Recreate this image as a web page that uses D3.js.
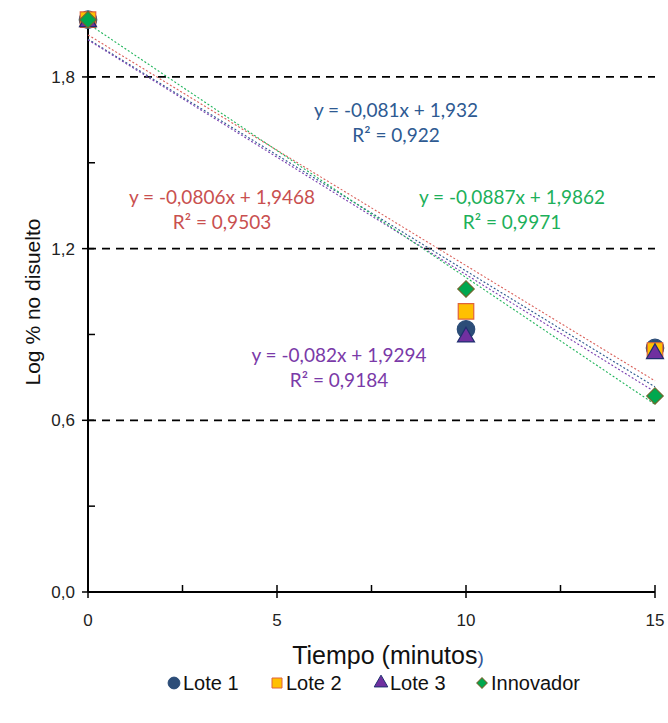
<!DOCTYPE html>
<html>
<head>
<meta charset="utf-8">
<script src="https://cdn.jsdelivr.net/npm/d3@7"></script>
<style>
  body { margin: 0; background: #fff; }
  svg { display: block; }
</style>
</head>
<body>
<div class="chart"></div>
<script>
var width = 668;
var height = 723;

// data
var tiempos = [0, 10, 15];
var series = ['Lote 1', 'Lote 2', 'Lote 3', 'Innovador'];
var lote1 = [2.0, 0.918, 0.853];
var lote2 = [2.0, 0.981, 0.844];
var lote3 = [2.0, 0.898, 0.840];
var innovador = [2.0, 1.059, 0.685];
var pendientes = [-0.081, -0.0806, -0.082, -0.0887];
var intercepts = [1.932, 1.9468, 1.9294, 1.9862];
var ecuaciones = ['y = -0,081x + 1,932', 'y = -0,0806x + 1,9468', 'y = -0,082x + 1,9294', 'y = -0,0887x + 1,9862'];
var r2 = ['R² = 0,922', 'R² = 0,9503', 'R² = 0,9184', 'R² = 0,9971'];
var yTicks = [0, 0.6, 1.2, 1.8];
var xTicks = [0, 5, 10, 15];

var valores = [lote1, lote2, lote3, innovador];
var fills = ['#2C4D78', '#FFC000', '#7030A0', '#00A84F'];
var strokes = ['#2C4D78', '#E0633A', '#1F2F70', '#6B6A2E'];
var lineColors = ['#2F5A8F', '#D9605A', '#7A3FB0', '#1FB45A'];
var textColors = ['#2E5A92', '#C9504F', '#7A3AA8', '#1DB05A'];
var labelPos = [[396, 111], [222, 198], [339, 356], [512, 198]];

var svg = d3.select('.chart')
  .append('svg')
  .attr('width', width)
  .attr('height', height);

var x = d3.scaleLinear().domain([0, 15]).range([88, 655]);
var y = d3.scaleLinear().domain([0, 2]).range([592, 19.7]);

// gridlines
svg.selectAll('.grid')
  .data(yTicks.filter(function(d){ return d > 0; }))
  .enter().append('line')
  .attr('x1', x(0)).attr('x2', x(15))
  .attr('y1', function(d){ return y(d); })
  .attr('y2', function(d){ return y(d); })
  .attr('stroke', '#000')
  .attr('stroke-width', 1.8)
  .attr('stroke-dasharray', '8,6');

// axes
svg.append('line')
  .attr('x1', x(0)).attr('x2', x(0))
  .attr('y1', y(2)).attr('y2', y(0))
  .attr('stroke', '#000').attr('stroke-width', 2);
svg.append('line')
  .attr('x1', x(0)).attr('x2', x(15))
  .attr('y1', y(0)).attr('y2', y(0))
  .attr('stroke', '#000').attr('stroke-width', 2);

// y ticks
svg.selectAll('.ytick')
  .data(yTicks)
  .enter().append('line')
  .attr('x1', x(0) - 6).attr('x2', x(0) + 6)
  .attr('y1', function(d){ return y(d); })
  .attr('y2', function(d){ return y(d); })
  .attr('stroke', '#000').attr('stroke-width', 1.5);
svg.selectAll('.yminor')
  .data([0.3, 0.9, 1.5])
  .enter().append('line')
  .attr('x1', x(0)).attr('x2', x(0) + 7)
  .attr('y1', function(d){ return y(d); })
  .attr('y2', function(d){ return y(d); })
  .attr('stroke', '#000').attr('stroke-width', 1.5);
svg.selectAll('.ylab')
  .data(yTicks)
  .enter().append('text')
  .attr('x', x(0) - 13)
  .attr('y', function(d){ return y(d) + 6; })
  .attr('text-anchor', 'end')
  .attr('font-family', 'Liberation Sans, Arial, sans-serif')
  .attr('font-size', '17px')
  .attr('fill', '#222')
  .text(function(d){ return d3.format('.1f')(d).replace('.', ','); });

// x ticks
svg.selectAll('.xtick')
  .data(xTicks)
  .enter().append('line')
  .attr('x1', function(d){ return x(d); })
  .attr('x2', function(d){ return x(d); })
  .attr('y1', y(0) - 7).attr('y2', y(0) + 6)
  .attr('stroke', '#000').attr('stroke-width', 1.5);
svg.selectAll('.xminor')
  .data([2.5, 7.5, 12.5])
  .enter().append('line')
  .attr('x1', function(d){ return x(d); })
  .attr('x2', function(d){ return x(d); })
  .attr('y1', y(0) - 7).attr('y2', y(0))
  .attr('stroke', '#000').attr('stroke-width', 1.5);
svg.selectAll('.xlab')
  .data(xTicks)
  .enter().append('text')
  .attr('x', function(d){ return x(d); })
  .attr('y', 626)
  .attr('text-anchor', 'middle')
  .attr('font-family', 'Liberation Sans, Arial, sans-serif')
  .attr('font-size', '17px')
  .attr('fill', '#222')
  .text(function(d){ return d; });

// axis titles
svg.append('text')
  .attr('transform', 'translate(40,' + 302 + ') rotate(-90)')
  .attr('text-anchor', 'middle')
  .attr('font-family', 'Liberation Sans, Arial, sans-serif')
  .attr('font-size', '21px')
  .attr('fill', '#111')
  .text('Log % no disuelto');
var xt = svg.append('text')
  .attr('x', 388)
  .attr('y', 664)
  .attr('text-anchor', 'middle')
  .attr('font-family', 'Liberation Sans, Arial, sans-serif')
  .attr('font-size', '25px')
  .attr('fill', '#111');
xt.append('tspan').text('Tiempo (minutos');
xt.append('tspan').attr('fill', '#2F5597').attr('font-size', '19px').text(')');

// trend lines
svg.selectAll('.trend')
  .data(series)
  .enter().append('line')
  .attr('x1', x(0)).attr('x2', x(15))
  .attr('y1', function(d, i){ return y(intercepts[i]); })
  .attr('y2', function(d, i){ return y(intercepts[i] + pendientes[i] * 15); })
  .attr('stroke', function(d, i){ return lineColors[i]; })
  .attr('stroke-width', 1.1)
  .attr('stroke-dasharray', '2,2');

// markers
var symbols = [d3.symbolCircle, d3.symbolSquare, d3.symbolTriangle, d3.symbolSquare];
var sizes = [240, 240, 125, 135];
var rot = [0, 0, 0, 45];
series.forEach(function(s, i){
  svg.selectAll('.m' + i)
    .data(valores[i])
    .enter().append('path')
    .attr('d', d3.symbol().type(symbols[i]).size(sizes[i]))
    .attr('transform', function(d, j){
      var dy = i === 2 ? 2 : 0;
      return 'translate(' + x(tiempos[j]) + ',' + (y(d) + dy) + ') rotate(' + rot[i] + ')';
    })
    .attr('fill', fills[i])
    .attr('stroke', strokes[i])
    .attr('stroke-width', 1.2);
});

// equation labels
series.forEach(function(s, i){
  var t = svg.append('text')
    .attr('text-anchor', 'middle')
    .attr('font-family', 'Lato, sans-serif')
    .attr('font-size', '19px')
    .attr('fill', textColors[i]);
  t.append('tspan').attr('x', labelPos[i][0]).attr('y', labelPos[i][1] + 6).text(ecuaciones[i]);
  t.append('tspan').attr('x', labelPos[i][0]).attr('y', labelPos[i][1] + 31).text(r2[i]);
});

// legend
var legX = [174, 277, 381, 482];
var leg = svg.selectAll('.leg')
  .data(series)
  .enter().append('g')
  .attr('transform', function(d, i){ return 'translate(' + legX[i] + ',683)'; });
leg.append('path')
  .attr('d', function(d, i){ return d3.symbol().type(symbols[i]).size([110, 100, 80, 55][i])(); })
  .attr('transform', function(d, i){ return 'rotate(' + rot[i] + ')'; })
  .attr('fill', function(d, i){ return fills[i]; })
  .attr('stroke', function(d, i){ return strokes[i]; })
  .attr('stroke-width', 1);
leg.append('text')
  .attr('x', 9)
  .attr('y', 7)
  .attr('font-family', 'Liberation Sans, Arial, sans-serif')
  .attr('font-size', '20px')
  .attr('fill', '#111')
  .text(function(d){ return d; });
</script>
</body>
</html>
